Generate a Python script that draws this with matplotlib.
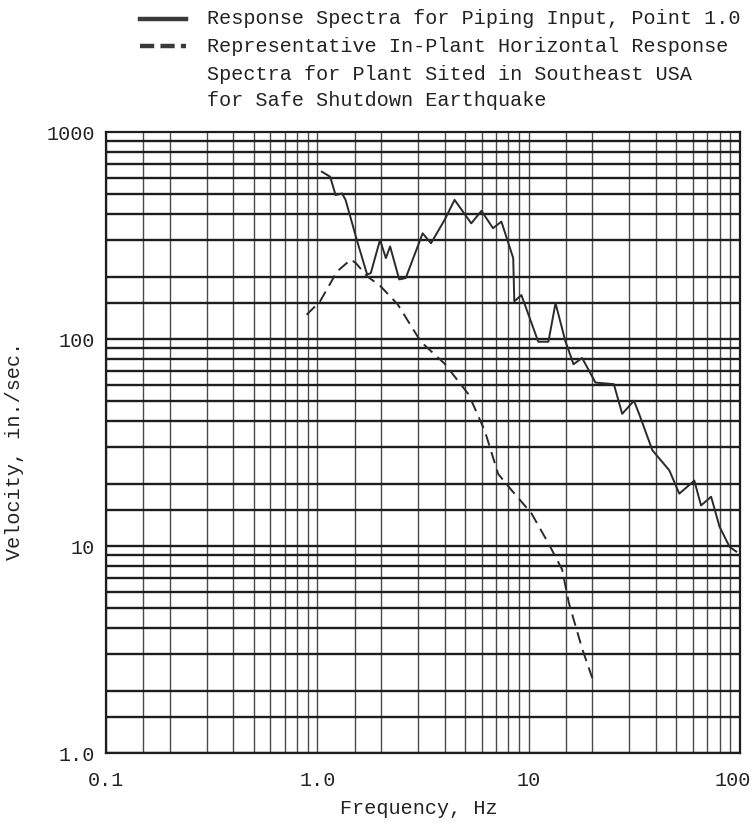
import matplotlib
matplotlib.use('Agg')
import matplotlib.pyplot as plt
import matplotlib.transforms as mtransforms
from matplotlib.lines import Line2D
from matplotlib.ticker import FixedLocator, NullLocator, FixedFormatter

# ---- data ----
piping_freq = [1.05, 1.15, 1.22, 1.31, 1.36, 1.545, 1.72, 1.79, 1.98, 2.11, 2.21, 2.44,
               2.62, 3.15, 3.45, 4.0, 4.46, 5.35, 5.98, 6.78, 7.43, 8.45, 8.55, 9.24,
               11.1, 12.4, 13.4, 14.9, 16.3, 17.9, 20.7, 25.3, 27.7, 31.5, 33.3, 38.5,
               46.3, 51.6, 60.8, 65.4, 73.0, 80.0, 89.3, 96.0]
piping_vel = [643, 608, 496, 505, 470, 296, 205, 208, 301, 246, 280, 194,
              197, 324, 290, 376, 470, 362, 416, 343, 369, 246, 152, 163,
              97, 97, 149, 98, 75.5, 81, 61.6, 60.5, 43.5, 50.3, 43.5, 29,
              23.2, 17.9, 20.7, 15.7, 17.3, 12.4, 9.9, 9.4]

inplant_freq = [0.89, 1.03, 1.24, 1.44, 1.52, 1.72, 1.99, 2.4, 3.09, 4.0, 5.2,
                6.2, 7.17, 8.3, 10.3, 12.4, 14.4, 15.5, 17.9, 20.0]
inplant_vel = [131, 152, 212, 242, 233, 201, 180, 147, 97, 76, 54,
               36, 22.3, 18.6, 14.4, 10.3, 7.7, 5.3, 3.2, 2.3]

x_ticks = [0.1, 1, 10, 100]
x_tick_labels = ['0.1', '1.0', '10', '100']
y_ticks = [1, 10, 100, 1000]
y_tick_labels = ['1.0', '10', '100', '1000']
grid_mults = [1, 1.5, 2, 3, 4, 5, 6, 7, 8, 9]

legend_solid = ['Response Spectra for Piping Input, Point 1.0']
legend_dashed = ['Representative In-Plant Horizontal Response',
                 'Spectra for Plant Sited in Southeast USA',
                 'for Safe Shutdown Earthquake']

plt.rcParams['font.family'] = ['Liberation Mono', 'DejaVu Sans Mono']

W, H = 755, 822
FS = 14.5
TXT = '#222222'
fig = plt.figure(figsize=(W / 100, H / 100), dpi=100)
left, right, top, bottom = 106, 740, 132, 753
ax = fig.add_axes([left / W, 1 - bottom / H, (right - left) / W, (bottom - top) / H])
ax.set_xscale('log')
ax.set_yscale('log')
ax.set_xlim(0.1, 100)
ax.set_ylim(1, 1000)

for dec in [0.1, 1, 10]:
    for m in grid_mults:
        ax.axvline(dec * m, color='#4a4a4a', lw=1.0, zorder=1)
for dec in [1, 10, 100]:
    for m in grid_mults:
        ax.axhline(dec * m, color='#1e1e1e', lw=1.7, zorder=1)

ax.plot(piping_freq, piping_vel, color='#2a2a2a', lw=1.4, zorder=3)
ax.plot(inplant_freq, inplant_vel, color='#2a2a2a', lw=1.4, ls=(0, (6, 3.5)), zorder=3)

for s in ax.spines.values():
    s.set_linewidth(1.6)
    s.set_color('#1e1e1e')

ax.xaxis.set_major_locator(FixedLocator(x_ticks))
ax.xaxis.set_major_formatter(FixedFormatter(x_tick_labels))
ax.xaxis.set_minor_locator(NullLocator())
ax.yaxis.set_major_locator(FixedLocator(y_ticks))
ax.yaxis.set_major_formatter(FixedFormatter(y_tick_labels))
ax.yaxis.set_minor_locator(NullLocator())
ax.tick_params(axis='x', which='both', length=0, pad=13, labelsize=FS, colors=TXT)
ax.tick_params(axis='y', which='both', length=0, pad=8, labelsize=FS, colors=TXT)

# nudge the last x tick label so it stays inside the picture
fig.canvas.draw()
lbl = ax.get_xticklabels()[-1]
lbl.set_transform(lbl.get_transform() +
                  mtransforms.ScaledTranslation(-7 / 100, 0, fig.dpi_scale_trans))

fig.text(419 / W, 1 - 808 / H, 'Frequency, Hz', fontsize=FS, color=TXT,
         ha='center', va='center')
fig.text(15 / W, 1 - 451 / H, 'Velocity, in./sec.', rotation=90, fontsize=FS,
         color=TXT, ha='center', va='center')

# legend
sym_x0, sym_x1, text_x = 140, 186, 207
line_ys = [19, 46, 74, 100]
fig.add_artist(Line2D([sym_x0 / W, sym_x1 / W], [1 - line_ys[0] / H] * 2,
                      color='#3a3a3a', lw=3.2, transform=fig.transFigure))
fig.add_artist(Line2D([sym_x0 / W, sym_x1 / W], [1 - line_ys[1] / H] * 2,
                      color='#3a3a3a', lw=3.2, ls=(0, (3.2, 1.4)), transform=fig.transFigure))
for txt, y in zip(legend_solid + legend_dashed, line_ys):
    fig.text(text_x / W, 1 - y / H, txt, fontsize=FS, color=TXT,
             ha='left', va='center')

fig.savefig('out.png', dpi=100)
